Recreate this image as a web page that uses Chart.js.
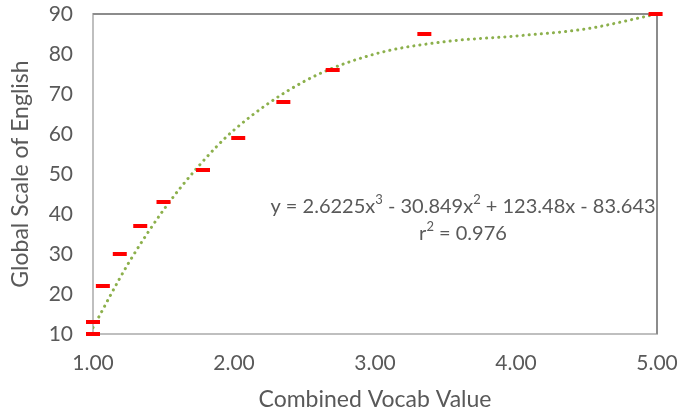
<!DOCTYPE html>
<html>
<head>
<meta charset="utf-8">
<script src="https://cdn.jsdelivr.net/npm/chart.js@4"></script>
<style>
  html, body { margin: 0; padding: 0; background: #fff; }
  #wrap { width: 678px; height: 413px; }
</style>
</head>
<body>
<div id="wrap"><canvas id="chart" width="678" height="413"></canvas></div>
<script>
// measured points (red dashes)
const vocabX = [1.00, 1.00, 1.07, 1.19, 1.335, 1.50, 1.78, 2.03, 2.35, 2.70, 3.35, 4.99];
const gseY = [10, 13, 22, 30, 37, 43, 51, 59, 68, 76, 85, 90];

// dotted trend curve
const trendX = [1.00, 1.25, 1.50, 1.75, 2.00, 2.50, 3.00, 3.50, 4.00, 4.50, 5.00];
const trendY = [11.6, 27.6, 41.0, 52.0, 61.0, 73.2, 80.0, 83.1, 84.5, 86.3, 90.0];

const xTicks = [1, 2, 3, 4, 5];
const yTicks = [10, 20, 30, 40, 50, 60, 70, 80, 90];

// equation pieces: [text, isSuperscript]
const eqLine1 = [['y = 2.6225x', 0], ['3', 1], [' - 30.849x', 0], ['2', 1], [' + 123.48x - 83.643', 0]];
const eqLine2 = [['r', 0], ['2', 1], [' = 0.976', 0]];

const FONT = 'Lato, "Liberation Sans", sans-serif';
const GREY = '#595959';

function drawPieces(ctx, pieces, cx, cy) {
  const base = '20px ' + FONT, sup = '13px ' + FONT;
  let w = 0;
  pieces.forEach(([t, s]) => { ctx.font = s ? sup : base; w += ctx.measureText(t).width; });
  let x = cx - w / 2;
  pieces.forEach(([t, s]) => {
    ctx.font = s ? sup : base;
    ctx.fillText(t, x, s ? cy - 7 : cy);
    x += ctx.measureText(t).width;
  });
}

// top and right border of the plot box, plus the trend equation
const frame = {
  id: 'frame',
  beforeDatasetsDraw(chart) {
    const { ctx, chartArea: a } = chart;
    ctx.save();
    ctx.strokeStyle = '#8c8c8c';
    ctx.lineWidth = 2;
    ctx.beginPath();
    ctx.moveTo(a.left, a.top);
    ctx.lineTo(a.right, a.top);
    ctx.lineTo(a.right, a.bottom);
    ctx.stroke();
    ctx.restore();
  },
  afterDraw(chart) {
    const { ctx } = chart;
    ctx.save();
    ctx.fillStyle = GREY;
    ctx.textAlign = 'left';
    ctx.textBaseline = 'middle';
    drawPieces(ctx, eqLine1, 463, 207);
    drawPieces(ctx, eqLine2, 463, 234);
    ctx.restore();
  }
};

new Chart(document.getElementById('chart'), {
  type: 'scatter',
  data: {
    datasets: [
      {
        label: 'Trend',
        data: trendX.map((x, i) => ({ x, y: trendY[i] })),
        showLine: true,
        cubicInterpolationMode: 'monotone',
        borderColor: '#8cb04c',
        borderWidth: 3,
        borderDash: [0.1, 6],
        borderCapStyle: 'round',
        pointRadius: 0,
        order: 2
      },
      {
        label: 'GSE',
        data: vocabX.map((x, i) => ({ x, y: gseY[i] })),
        pointStyle: 'line',
        pointRadius: 7,
        borderWidth: 4,
        borderColor: '#ff0000',
        backgroundColor: '#ff0000',
        clip: false,
        order: 1
      }
    ]
  },
  options: {
    responsive: false,
    animation: false,
    devicePixelRatio: 1,
    layout: { padding: { top: 14, right: 21, left: 0, bottom: 0 } },
    plugins: { legend: { display: false }, tooltip: { enabled: false } },
    scales: {
      x: {
        type: 'linear',
        min: 1, max: 5,
        afterBuildTicks: s => { s.ticks = xTicks.map(v => ({ value: v })); },
        afterFit: s => { s.height = 79; s.paddingLeft = 0; s.paddingRight = 0; },
        grid: { display: false, drawTicks: false },
        border: { color: '#bfbfbf', width: 2 },
        ticks: {
          padding: 17,
          color: GREY,
          font: { family: FONT, size: 21 },
          callback: v => v.toFixed(2)
        },
        title: {
          display: true,
          text: 'Combined Vocab Value',
          color: GREY,
          font: { family: FONT, size: 23 },
          padding: { top: 0, bottom: 0 }
        }
      },
      y: {
        type: 'linear',
        min: 10, max: 90,
        afterBuildTicks: s => { s.ticks = yTicks.map(v => ({ value: v })); },
        afterFit: s => { s.width = 93; s.paddingTop = 0; s.paddingBottom = 0; },
        grid: { display: false, drawTicks: false },
        border: { color: '#bfbfbf', width: 2 },
        ticks: {
          padding: 20,
          color: GREY,
          font: { family: FONT, size: 21 }
        },
        title: {
          display: true,
          text: 'Global Scale of English',
          color: GREY,
          font: { family: FONT, size: 23 },
          padding: { top: 7, bottom: 0 }
        }
      }
    }
  },
  plugins: [frame]
});
</script>
</body>
</html>
